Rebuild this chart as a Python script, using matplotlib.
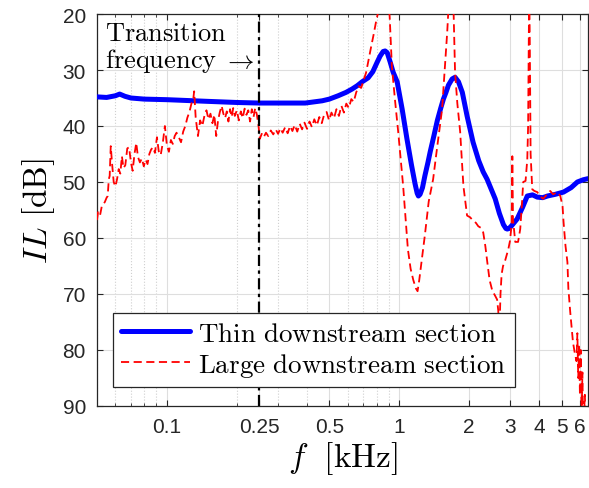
import matplotlib
matplotlib.use('Agg')
import matplotlib.pyplot as plt
from matplotlib.ticker import FixedLocator, FixedFormatter, LogLocator, NullFormatter

plt.rcParams['mathtext.fontset'] = 'cm'

# ---------------- data ----------------
thin_f = [0.050, 0.055, 0.060, 0.0626, 0.066, 0.070, 0.080, 0.100, 0.150, 0.200,
          0.250, 0.300, 0.394, 0.466, 0.500, 0.546, 0.590, 0.627, 0.660, 0.693,
          0.735, 0.770, 0.804, 0.828, 0.853, 0.870, 0.888, 0.915, 0.942, 0.980,
          1.030, 1.080, 1.130, 1.170, 1.195, 1.210, 1.230, 1.260, 1.290, 1.330,
          1.360, 1.410, 1.460, 1.510, 1.550, 1.590, 1.630, 1.690, 1.740, 1.800,
          1.870, 1.960, 2.080, 2.200, 2.300, 2.390, 2.590, 2.700, 2.810, 2.880,
          2.920, 2.970, 3.050, 3.220, 3.400, 3.560, 3.750, 3.930, 4.150, 4.350,
          4.700, 5.100, 5.500, 5.850, 6.200, 6.500]
thin_il = [34.8, 34.9, 34.6, 34.3, 34.7, 35.0, 35.2, 35.3, 35.6, 35.8,
           35.9, 35.9, 35.9, 35.5, 35.2, 34.6, 34.0, 33.4, 32.8, 32.1,
           31.4, 30.3, 28.6, 27.5, 26.7, 26.6, 26.9, 28.6, 30.4, 32.1,
           37.0, 42.3, 47.0, 50.3, 52.0, 52.5, 52.2, 51.0, 48.9, 46.5,
           44.6, 41.8, 39.0, 36.8, 35.2, 34.0, 32.7, 31.6, 31.3, 32.1,
           34.0, 38.2, 42.9, 46.2, 48.2, 49.5, 53.0, 55.6, 57.6, 58.3,
           58.4, 58.3, 57.8, 56.6, 54.5, 52.5, 52.3, 52.7, 52.8, 52.5,
           52.2, 51.8, 51.0, 50.0, 49.6, 49.4]

large_f = [0.0500, 0.0505, 0.0515, 0.0525, 0.0540, 0.0550, 0.0556, 0.0562, 0.0567, 0.0573,
           0.0580, 0.0590, 0.0600, 0.0610, 0.0620, 0.0630, 0.0640, 0.0650, 0.0662, 0.0675,
           0.0687, 0.0700, 0.0712, 0.0725, 0.0738, 0.0750, 0.0765, 0.0780, 0.0795, 0.0810,
           0.0825, 0.0840, 0.0855, 0.0871, 0.0888, 0.0906, 0.0922, 0.0940, 0.0960, 0.0980,
           0.1000, 0.1020, 0.1040, 0.1060, 0.1080, 0.1100, 0.1125, 0.1150, 0.1175, 0.1200,
           0.1225, 0.1250, 0.1275, 0.1300, 0.1310, 0.1330, 0.1360, 0.1390, 0.1420, 0.1450,
           0.1480, 0.1510, 0.1540, 0.1570, 0.1600, 0.1630, 0.1660, 0.1690, 0.1720, 0.1750,
           0.1780, 0.1810, 0.1840, 0.1870, 0.1900, 0.1930, 0.1960, 0.2000, 0.2040, 0.2080,
           0.2120, 0.2160, 0.2200, 0.2240, 0.2280, 0.2320, 0.2360, 0.2400, 0.2440, 0.2480,
           0.2510, 0.2560, 0.2610, 0.2670, 0.2730, 0.2800, 0.2870, 0.2940, 0.3010, 0.3080,
           0.3150, 0.3230, 0.3310, 0.3390, 0.3470, 0.3550, 0.3640, 0.3730, 0.3820, 0.3910,
           0.4010, 0.4110, 0.4210, 0.4310, 0.4420, 0.4530, 0.4640, 0.4750, 0.4870, 0.4990,
           0.5110, 0.5240, 0.5370, 0.5500, 0.5640, 0.5780, 0.5920, 0.6070, 0.6220, 0.6370,
           0.6530, 0.6690, 0.6860, 0.7030, 0.7200, 0.7380, 0.7560, 0.7750, 0.7940, 0.8130,
           0.8330, 0.8530, 0.8740, 0.8960, 0.9100, 0.9300, 0.9600, 0.9900, 1.0150, 1.0400,
           1.0650, 1.0900, 1.1200, 1.1500, 1.1800, 1.2000, 1.2200, 1.2500, 1.2900, 1.3400,
           1.4000, 1.4600, 1.5300, 1.5700, 1.6100, 1.6400, 1.6800, 1.7100, 1.7400, 1.7800,
           1.8300, 1.8900, 1.9600, 2.0200, 2.0800, 2.1400, 2.1900, 2.2500, 2.3000, 2.3500,
           2.3900, 2.4500, 2.5200, 2.5800, 2.6400, 2.6700, 2.7000, 2.7300, 2.7600, 2.8000,
           2.8600, 2.9500, 3.0000, 3.0500, 3.0700, 3.0900, 3.1600, 3.2500, 3.3200, 3.3800,
           3.4200, 3.5000, 3.5600, 3.5900, 3.6200, 3.6300, 3.6500, 3.6800, 3.7400, 3.8200,
           3.9300, 4.0500, 4.1700, 4.3500, 4.4700, 4.6000, 4.7900, 4.9400, 5.0500, 5.1000,
           5.2000, 5.3000, 5.3500, 5.4500, 5.6000, 5.7000, 5.8000, 5.8500, 5.9000, 5.9500,
           6.0000, 6.0500, 6.1000, 6.1500, 6.2000, 6.3000, 6.4000, 6.5000]
large_il = [56.8, 55.4, 56.0, 54.2, 53.6, 52.8, 52.5, 49.5, 48.9, 43.6,
            46.5, 50.0, 50.8, 49.5, 47.7, 48.5, 45.4, 47.5, 47.0, 44.0,
            43.8, 46.5, 48.0, 45.0, 43.0, 45.5, 46.5, 45.8, 47.2, 46.0,
            46.8, 45.0, 44.2, 43.8, 44.8, 42.0, 44.5, 45.2, 43.0, 40.0,
            43.5, 44.6, 42.5, 43.2, 41.8, 41.2, 42.0, 42.9, 41.0, 40.0,
            38.5, 37.5, 36.0, 35.0, 33.8, 38.5, 41.8, 39.0, 40.0, 38.2,
            37.2, 38.8, 37.8, 39.5, 38.0, 41.8, 39.0, 37.5, 36.4, 37.8,
            38.6, 37.4, 39.2, 37.0, 38.4, 36.8, 38.2, 37.2, 39.0, 37.4,
            38.6, 36.9, 38.0, 37.2, 39.2, 37.0, 38.4, 36.8, 38.0, 40.0,
            42.3, 41.4, 42.0, 41.2, 41.8, 40.8, 41.5, 40.6, 41.4, 40.4,
            41.2, 40.2, 41.3, 40.0, 40.9, 39.8, 41.0, 39.6, 40.6, 39.4,
            40.5, 39.2, 40.2, 38.8, 39.9, 38.4, 39.5, 38.0, 37.5, 39.0,
            37.6, 38.6, 37.0, 38.2, 36.4, 37.6, 36.0, 36.8, 35.2, 35.7,
            34.0, 32.9, 33.2, 31.8, 30.5, 28.2, 26.0, 23.8, 21.5, 19.5,
            17.5, 16.8, 18.0, 17.2, 20.5, 29.3, 35.5, 41.0, 46.0, 50.7,
            56.5, 62.0, 65.5, 67.5, 69.0, 69.5, 67.5, 64.0, 59.5, 53.5,
            49.5, 43.5, 37.0, 30.0, 23.2, 17.0, 15.0, 17.5, 30.4, 36.0,
            41.0, 50.7, 56.0, 56.3, 56.9, 57.3, 57.9, 58.2, 59.0, 61.5,
            64.0, 67.5, 69.5, 70.2, 71.0, 73.0, 77.0, 70.0, 66.5, 65.0,
            64.0, 62.0, 60.5, 57.5, 45.4, 56.6, 60.7, 60.7, 58.4, 53.6,
            50.0, 49.8, 46.0, 40.0, 20.0, 15.0, 25.0, 45.0, 51.3, 51.6,
            51.8, 52.6, 53.0, 52.1, 51.6, 52.2, 51.8, 52.5, 54.3, 57.1,
            61.4, 64.3, 69.0, 73.2, 78.6, 80.5, 82.0, 77.0, 85.0, 79.0,
            88.0, 80.0, 92.0, 84.0, 95.0, 88.0, 96.0, 95.0]

xtick_vals = [0.1, 0.25, 0.5, 1, 2, 3, 4, 5, 6]
xtick_labels = ['0.1', '0.25', '0.5', '1', '2', '3', '4', '5', '6']
ytick_vals = [20, 30, 40, 50, 60, 70, 80, 90]
transition_f = 0.25

series_labels = [r'$\mathrm{Thin\ downstream\ section}$',
                 r'$\mathrm{Large\ downstream\ section}$']

# ---------------- figure ----------------
W, H = 589, 489
fig = plt.figure(figsize=(W / 100, H / 100), dpi=100)
ax = fig.add_axes([97 / W, 1 - 407 / H, (588 - 97) / W, (407 - 15) / H])

ax.plot(thin_f, thin_il, color='#0000ff', lw=3.6, label=series_labels[0], zorder=3,
        solid_joinstyle='round', solid_capstyle='round')
ax.plot(large_f, large_il, color='#ff0000', lw=1.3, dashes=(4.5, 2.5),
        label=series_labels[1], zorder=4)
ax.axvline(transition_f, color='black', lw=1.6, dashes=(5, 2, 1.5, 2), zorder=5)

ax.set_xscale('log')
ax.set_xlim(0.05, 6.5)
ax.set_ylim(90, 20)

ax.xaxis.set_major_locator(FixedLocator(xtick_vals))
ax.xaxis.set_major_formatter(FixedFormatter(xtick_labels))
ax.xaxis.set_minor_locator(LogLocator(base=10, subs=[2, 3, 4, 5, 6, 7, 8, 9], numticks=20))
ax.xaxis.set_minor_formatter(NullFormatter())
ax.set_yticks(ytick_vals)

ax.grid(True, which='major', color='#dedede', lw=0.8, ls='-', zorder=0)
ax.grid(True, which='minor', axis='x', color='#cfcfcf', lw=0.8, ls=':', zorder=0)
ax.set_axisbelow(True)

tc = '#262626'
for s in ax.spines.values():
    s.set_color(tc)
    s.set_linewidth(0.9)
ax.tick_params(which='both', direction='in', top=True, right=True, colors=tc)
ax.tick_params(which='major', length=4, labelsize=15, pad=8)
ax.tick_params(which='minor', length=2.5)
for lab in ax.get_xticklabels() + ax.get_yticklabels():
    lab.set_fontfamily('Liberation Sans')
    lab.set_color(tc)

ax.set_xlabel(r'$f\ \ [\mathrm{kHz}]$', fontsize=24, labelpad=2)
ax.set_ylabel(r'$IL\ [\mathrm{dB}]$', fontsize=24, labelpad=4)

ax.text(0.0163, 0.934, r'$\mathrm{Transition}$', transform=ax.transAxes,
        fontsize=19, va='baseline', ha='left')
ax.text(0.0163, 0.865, r'$\mathrm{frequency}\ \rightarrow$', transform=ax.transAxes,
        fontsize=19, va='baseline', ha='left')

leg = ax.legend(loc='lower left', bbox_to_anchor=(0.0326, 0.0485), borderaxespad=0,
                fontsize=19.5, fancybox=False, framealpha=1, edgecolor=tc,
                handlelength=2.55, handletextpad=0.3, borderpad=0.3, labelspacing=0.15)
leg.get_frame().set_linewidth(0.9)
leg.set_zorder(10)

fig.savefig('out.png', dpi=100)
